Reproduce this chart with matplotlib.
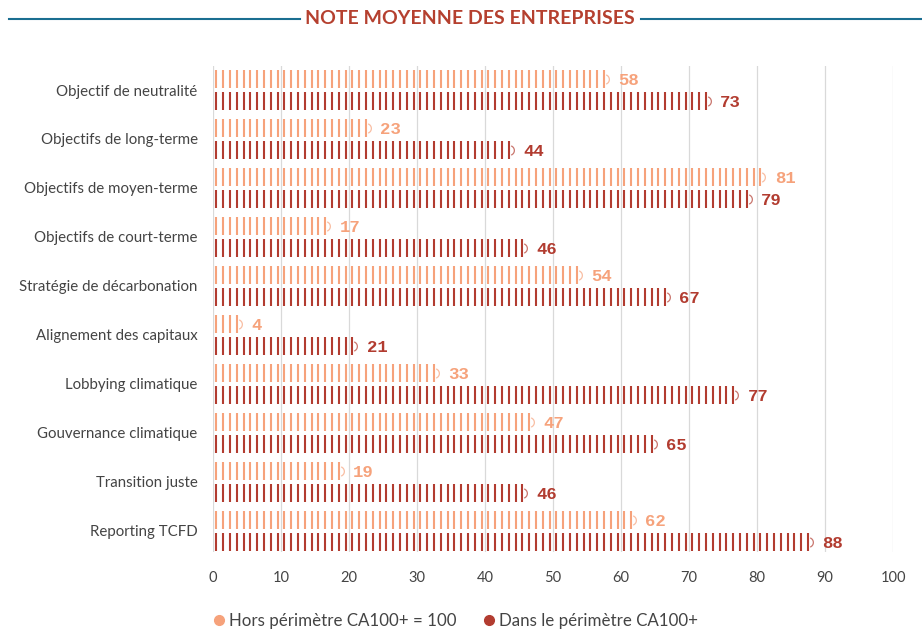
import numpy as np
import matplotlib
matplotlib.use('Agg')
import matplotlib.pyplot as plt
from matplotlib.path import Path
from matplotlib.lines import Line2D
from matplotlib.font_manager import FontProperties

plt.rcParams['font.family'] = ['Lato', 'DejaVu Sans']

# données
categories = ['Objectif de neutralité', 'Objectifs de long-terme', 'Objectifs de moyen-terme',
              'Objectifs de court-terme', 'Stratégie de décarbonation', 'Alignement des capitaux',
              'Lobbying climatique', 'Gouvernance climatique', 'Transition juste', 'Reporting TCFD']
hors_ca100 = [58, 23, 81, 17, 54, 4, 33, 47, 19, 62]
dans_ca100 = [73, 44, 79, 46, 67, 21, 77, 65, 46, 88]
series_names = ['Hors périmètre CA100+ = 100', 'Dans le périmètre CA100+']
x_ticks = list(range(0, 101, 10))

light = '#F6A27B'
dark = '#B23C30'
title_color = '#B5402F'
blue = '#1A6E91'

W, H = 922, 632
fig = plt.figure(figsize=(W / 100, H / 100), dpi=100)

# axes: x=0 -> 213px, x=100 -> 893px ; top 66px, bottom 552px
ax = fig.add_axes([213 / W, 1 - 552 / H, 680 / W, 486 / H])
ax.set_xlim(0, 100)
ax.set_ylim(9.43, -0.49)

bar_h = 0.37
offset = 0.225
arc = Path.arc(-70, 70)
mono = FontProperties(family='Liberation Mono', size=12.5, weight='bold')

for i, (v1, v2) in enumerate(zip(hors_ca100, dans_ca100)):
    for val, col, dy in [(v1, light, -offset), (v2, dark, offset)]:
        y = i + dy
        xs = np.arange(int(val)) + 0.5
        ax.vlines(xs, y - bar_h / 2, y + bar_h / 2, colors=col, lw=1.5)
        ax.plot([val - 0.5], [y], marker=arc, markersize=7, color=col, alpha=0.7,
                markerfacecolor='none', markeredgewidth=0.9, ls='none')
        ax.text(val + 1.6, y + 0.04, str(val), color=col, fontproperties=mono,
                va='center', ha='left')

ax.set_yticks(range(len(categories)))
ax.set_yticklabels(categories, fontsize=10.8, color='#444444')
ax.set_xticks(x_ticks)
ax.set_xticklabels([str(t) for t in x_ticks], fontsize=10.5, color='#444444')
ax.tick_params(length=0)
ax.tick_params(axis='y', pad=11)
ax.tick_params(axis='x', pad=14)
ax.grid(axis='x', color='#d9d9d9', lw=0.9)
ax.set_axisbelow(True)
for s in ax.spines.values():
    s.set_visible(False)

# titre avec lignes
fig.text(470 / W, 1 - 19 / H, 'NOTE MOYENNE DES ENTREPRISES', ha='center', va='center',
         fontsize=14, fontweight='bold', color=title_color)
fig.add_artist(Line2D([9 / W, 300 / W], [1 - 18.5 / H] * 2, color=blue, lw=1.5))
fig.add_artist(Line2D([641 / W, 1.0], [1 - 18.5 / H] * 2, color=blue, lw=1.5))

# légende
handles = [Line2D([], [], marker='o', ls='none', color=light, markersize=7),
           Line2D([], [], marker='o', ls='none', color=dark, markersize=7)]
fig.legend(handles, series_names, loc='center', bbox_to_anchor=(455 / W, 1 - 621 / H),
           ncol=2, frameon=False, fontsize=12.2, handletextpad=0.2, columnspacing=1.5,
           handlelength=0.8, labelcolor='#444444')

fig.savefig('out.png', dpi=100)
